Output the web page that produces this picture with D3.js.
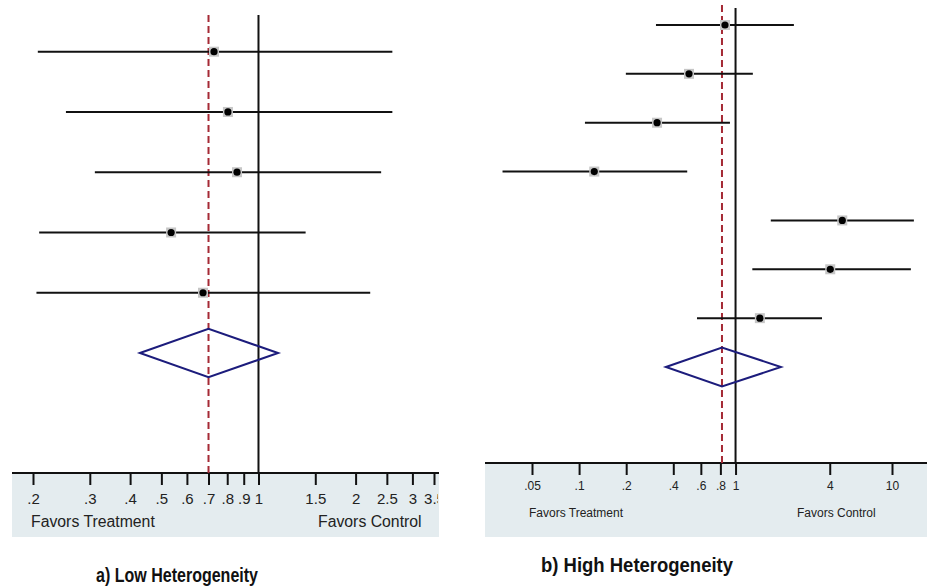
<!DOCTYPE html>
<html><head><meta charset="utf-8">
<script src="https://cdn.jsdelivr.net/npm/d3@7"></script>
<style>body{margin:0;background:#fff}svg{display:block}</style>
</head><body>
<svg id="c" width="927" height="586"></svg>
<script>
// ---- Data ----
// Panel a) Low heterogeneity
const lowStudies = ["1","2","3","4","5"];
const lowEst = [0.728, 0.804, 0.858, 0.536, 0.673];
const lowLo  = [0.207, 0.253, 0.311, 0.209, 0.205];
const lowHi  = [2.60, 2.60, 2.40, 1.40, 2.22];
const lowPooled = [0.70, 0.429, 1.15]; // est, lo, hi
const lowTicks = [0.2,0.3,0.4,0.5,0.6,0.7,0.8,0.9,1,1.5,2,2.5,3,3.5];

// Panel b) High heterogeneity
const highStudies = ["1","2","3","4","5","6","7"];
const highEst = [0.856, 0.504, 0.315, 0.125, 4.81, 4.03, 1.43];
const highLo  = [0.310, 0.199, 0.109, 0.0324, 1.68, 1.28, 0.567];
const highHi  = [2.36, 1.29, 0.921, 0.491, 13.8, 13.2, 3.57];
const highPooled = [0.819, 0.359, 1.95];
const highTicks = [0.05,0.1,0.2,0.4,0.6,0.8,1,4,10];

const svg = d3.select("#c");
const fmt = v => String(v).replace(/^0\./, ".");

function panel(cfg){
  const g = svg.append("g");
  const x = d3.scaleLog().domain(cfg.domain).range(cfg.range);
  const rows = cfg.studies.concat(["pooled"]);
  const y = d3.scalePoint().domain(rows).range(cfg.yRange);
  const step = y.step();

  // gray box under axis
  g.append("rect").attr("x", cfg.boxX[0]).attr("y", cfg.axisY)
    .attr("width", cfg.boxX[1]-cfg.boxX[0]).attr("height", cfg.boxBottom-cfg.axisY)
    .attr("fill", "#e4ecef");

  // clip for tick labels (in axis-group local coords)
  const clipId = "clip"+cfg.id;
  svg.append("clipPath").attr("id", clipId).append("rect")
    .attr("x", cfg.boxX[0]).attr("y", -2)
    .attr("width", cfg.clipW).attr("height", cfg.boxBottom-cfg.axisY+2);

  const ax = g.append("g").attr("transform", `translate(0,${cfg.axisY})`)
    .attr("clip-path", `url(#${clipId})`)
    .call(d3.axisBottom(x).tickValues(cfg.ticks).tickFormat(fmt).tickSize(12).tickPadding(cfg.tickPad));
  ax.select(".domain").remove();
  ax.selectAll(".tick line").attr("stroke", "#111").attr("stroke-width", 2);
  ax.selectAll(".tick text").attr("fill", "#222")
    .attr("font-family", "Liberation Sans, Arial, sans-serif").attr("font-size", cfg.fs);

  // axis line
  g.append("line").attr("x1", cfg.boxX[0]).attr("x2", cfg.boxX[1])
    .attr("y1", cfg.axisY).attr("y2", cfg.axisY).attr("stroke", "#111").attr("stroke-width", 2);

  // favors labels
  g.append("text").attr("x", cfg.favT).attr("y", cfg.favY).text("Favors Treatment")
    .attr("font-family", "Liberation Sans, Arial, sans-serif").attr("font-size", cfg.favFs).attr("fill", "#222");
  g.append("text").attr("x", cfg.favC).attr("y", cfg.favY).text("Favors Control")
    .attr("font-family", "Liberation Sans, Arial, sans-serif").attr("font-size", cfg.favFs).attr("fill", "#222");

  // null line
  g.append("line").attr("x1", x(1)).attr("x2", x(1)).attr("y1", cfg.nullTop).attr("y2", cfg.axisY)
    .attr("stroke", "#111").attr("stroke-width", 2);
  // pooled dashed line
  g.append("line").attr("x1", x(cfg.pooled[0])).attr("x2", x(cfg.pooled[0]))
    .attr("y1", cfg.dashTop).attr("y2", cfg.axisY)
    .attr("stroke", "#a52a35").attr("stroke-width", 2).attr("stroke-dasharray", "7,4");

  // CIs
  const data = cfg.studies.map((s,i)=>({s, est:cfg.est[i], lo:cfg.lo[i], hi:cfg.hi[i]}));
  g.selectAll(".ci").data(data).join("line")
    .attr("x1", d=>x(d.lo)).attr("x2", d=>x(d.hi))
    .attr("y1", d=>y(d.s)).attr("y2", d=>y(d.s))
    .attr("stroke", "#111").attr("stroke-width", 2);
  g.selectAll(".box").data(data).join("rect")
    .attr("x", d=>x(d.est)-5).attr("y", d=>y(d.s)-5).attr("width", 10).attr("height", 10)
    .attr("fill", "#c6c6c6");
  g.selectAll(".dot").data(data).join("circle")
    .attr("cx", d=>x(d.est)).attr("cy", d=>y(d.s)).attr("r", 3.6).attr("fill", "#000");

  // diamond
  const py = y("pooled"), h = step*0.4;
  const [pe, pl, ph] = cfg.pooled;
  g.append("path")
    .attr("d", `M${x(pl)},${py} L${x(pe)},${py-h} L${x(ph)},${py} L${x(pe)},${py+h} Z`)
    .attr("fill", "none").attr("stroke", "#1c1c7c").attr("stroke-width", 2);

  // title
  g.append("text").attr("x", cfg.titleX).attr("y", cfg.titleY)
    .text(cfg.title).attr("font-family", "Liberation Sans Narrow, Arial Narrow, Liberation Sans, sans-serif")
    .attr("font-weight", "bold").attr("font-size", cfg.titleFs).attr("fill", "#111")
    .attr("textLength", cfg.titleW).attr("lengthAdjust", "spacingAndGlyphs");
}

panel({id:"a", studies: lowStudies, est: lowEst, lo: lowLo, hi: lowHi, pooled: lowPooled, ticks: lowTicks,
  domain:[0.2,3.5], range:[33,434], yRange:[51.7,353], axisY:473, boxX:[12,439], boxBottom:537, clipW:426,
  fs:15, favFs:15.8, tickPad:8, favT:31, favC:318, favY:527, nullTop:15, dashTop:15,
  title:"a) Low Heterogeneity", titleX:96, titleY:582, titleW:162, titleFs:20});

panel({id:"b", studies: highStudies, est: highEst, lo: highLo, hi: highHi, pooled: highPooled, ticks: highTicks,
  domain:[0.05,10], range:[532,892], yRange:[25,367], axisY:463, boxX:[485,927], boxBottom:537, clipW:442,
  fs:12, favFs:12, tickPad:6, favT:529, favC:797, favY:517, nullTop:8, dashTop:5,
  title:"b) High Heterogeneity", titleX:541, titleY:572, titleW:192, titleFs:20});
</script>
</body></html>
